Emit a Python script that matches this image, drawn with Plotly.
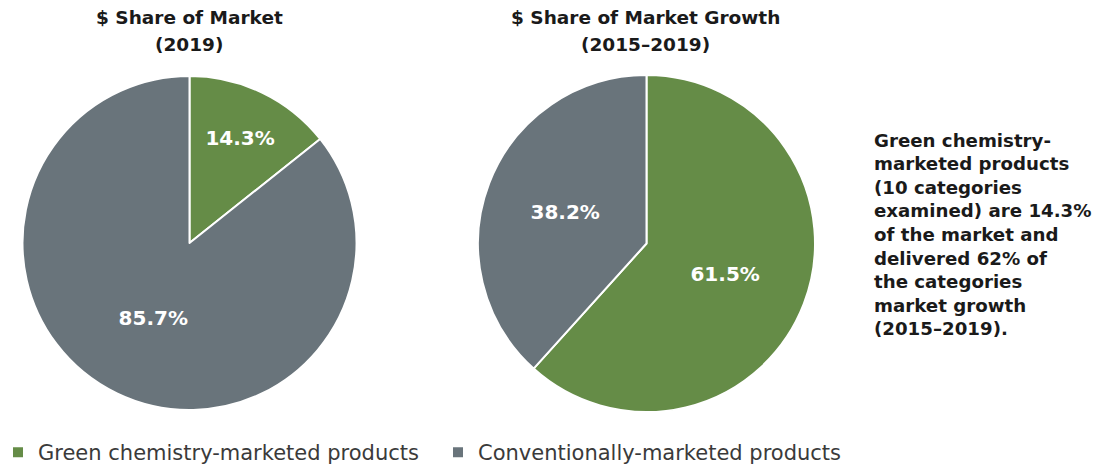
import plotly.graph_objects as go

labels = ["Green chemistry-marketed products", "Conventionally-marketed products"]
share_2019 = [14.3, 85.7]
share_growth = [61.5, 38.2]
colors = ["#658c47", "#69747b"]

titles = [["$ Share of Market", "(2019)"], ["$ Share of Market Growth", "(2015–2019)"]]
note_lines = [
    "Green chemistry-", "marketed products", "(10 categories", "examined) are 14.3%",
    "of the market and", "delivered 62% of", "the categories", "market growth", "(2015–2019).",
]

# page body has an 8px margin, so the figure is laid out in page pixels minus 8
W, H = 1095, 460
OFF = 8
font = "DejaVu Sans"


def px(x):
    return (x - OFF) / W


def py(y):
    return 1 - (y - OFF) / H


fig = go.Figure()

pies = [
    (share_2019, [22, 357], [76, 410], True),
    (share_growth, [478, 815], [75, 412], False),
]
for vals, xs, ys, leg in pies:
    fig.add_trace(
        go.Pie(
            labels=labels,
            values=vals,
            sort=False,
            direction="clockwise",
            rotation=0,
            marker=dict(colors=colors, line=dict(color="white", width=2)),
            text=[f"{v:.1f}%" for v in vals],
            textinfo="text",
            textposition="inside",
            insidetextorientation="horizontal",
            insidetextfont=dict(color="white", size=20, family=font, weight="bold"),
            domain=dict(x=[px(xs[0]), px(xs[1])], y=[py(ys[1]), py(ys[0])]),
            showlegend=leg,
            hoverinfo="label+percent",
        )
    )

for lines, cx in zip(titles, [189, 645]):
    for line, cy in zip(lines, [18, 45]):
        fig.add_annotation(
            x=px(cx), y=py(cy), xref="paper", yref="paper",
            text=f"<b>{line}</b>", showarrow=False, xanchor="center", yanchor="middle",
            font=dict(size=18.5, family=font, color="#1a1a1a"),
        )

for i, line in enumerate(note_lines):
    fig.add_annotation(
        x=px(872), y=py(140 + i * 23.6), xref="paper", yref="paper",
        text=f"<b>{line}</b>", showarrow=False, xanchor="left", yanchor="middle",
        font=dict(size=18.2, family=font, color="#1a1a1a"),
    )

fig.update_layout(
    width=W, height=H,
    margin=dict(l=0, r=0, t=0, b=0, autoexpand=False),
    paper_bgcolor="white",
    plot_bgcolor="white",
    legend=dict(
        orientation="h", x=0, y=-5 / H, xanchor="left", yanchor="bottom",
        font=dict(size=21, family=font, color="#3a3a3a"),
        itemwidth=30, traceorder="normal", indentation=-10,
        entrywidth=405, entrywidthmode="pixels",
    ),
)

fig.write_html("out.html")
